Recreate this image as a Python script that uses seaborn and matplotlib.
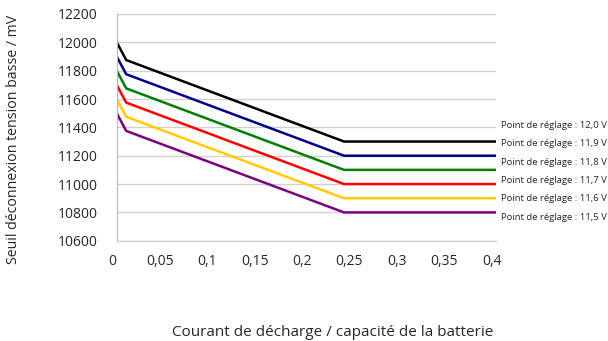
import numpy as np
import pandas as pd
import matplotlib
matplotlib.use("Agg")
import matplotlib.pyplot as plt
import matplotlib.transforms as mtransforms
import seaborn as sns

# Courbes : seuil de déconnexion selon le courant de décharge
x_points = [0, 0.01, 0.24, 0.4]
y_120 = [12000, 11875, 11300, 11300]
y_119 = [11900, 11775, 11200, 11200]
y_118 = [11800, 11675, 11100, 11100]
y_117 = [11700, 11575, 11000, 11000]
y_116 = [11600, 11475, 10900, 10900]
y_115 = [11500, 11375, 10800, 10800]

series = ["12,0 V", "11,9 V", "11,8 V", "11,7 V", "11,6 V", "11,5 V"]
colors = ["#000000", "#00008b", "#007f00", "#ff0000", "#ffcc00", "#7f007f"]
label_y = [11415, 11285, 11155, 11025, 10895, 10765]

x_ticks = [0, 0.05, 0.1, 0.15, 0.2, 0.25, 0.3, 0.35, 0.4]
x_tick_labels = ["0", "0,05", "0,1", "0,15", "0,2", "0,25", "0,3", "0,35", "0,4"]
y_ticks = [10600, 10800, 11000, 11200, 11400, 11600, 11800, 12000, 12200]

rows = []
for name, ys in zip(series, [y_120, y_119, y_118, y_117, y_116, y_115]):
    for x, y in zip(x_points, ys):
        rows.append({"courant": x, "seuil": y, "reglage": name})
df = pd.DataFrame(rows)

sns.set_style("white")
plt.rcParams["font.family"] = ["Open Sans", "DejaVu Sans"]

fig = plt.figure(figsize=(6.08, 3.41), dpi=100)
ax = fig.add_axes([0.192, 0.294, 0.623, 0.665])

sns.lineplot(data=df, x="courant", y="seuil", hue="reglage", palette=colors,
             hue_order=series, linewidth=1.8, legend=False, ax=ax, sort=False)

ax.set_xlim(0, 0.4)
ax.set_ylim(10600, 12200)
ax.set_xticks(x_ticks)
ax.set_xticklabels(x_tick_labels, fontsize=10)
ax.set_yticks(y_ticks)
ax.set_yticklabels([str(v) for v in y_ticks], fontsize=10)
ax.grid(axis="y", color="#d0d0d0", linewidth=1)
ax.set_axisbelow(True)
ax.set_xlabel("")
ax.set_ylabel("")

for s in ["top", "right"]:
    ax.spines[s].set_visible(False)
ax.spines["left"].set_color("#b8b8b8")
ax.spines["bottom"].set_color("#c8c8c8")
ax.tick_params(axis="y", length=8.5, color="#c8c8c8", width=1, pad=5)
ax.tick_params(axis="x", length=6.7, color="#b8b8b8", width=1, pad=3)

shift = mtransforms.ScaledTranslation(-4 / 100, 0, fig.dpi_scale_trans)
for lab in ax.get_xticklabels():
    lab.set_transform(lab.get_transform() + shift)

for name, ly in zip(series, label_y):
    ax.text(0.406, ly, "Point de réglage : " + name, fontsize=6.8,
            va="center", ha="left", clip_on=False)

fig.text(0.548, 0.025, "Courant de décharge / capacité de la batterie",
         fontsize=11, ha="center", va="center")
fig.text(0.022, 0.591, "Seuil déconnexion tension basse / mV",
         fontsize=10.2, ha="center", va="center", rotation=90)

fig.savefig("out.png", dpi=100)
